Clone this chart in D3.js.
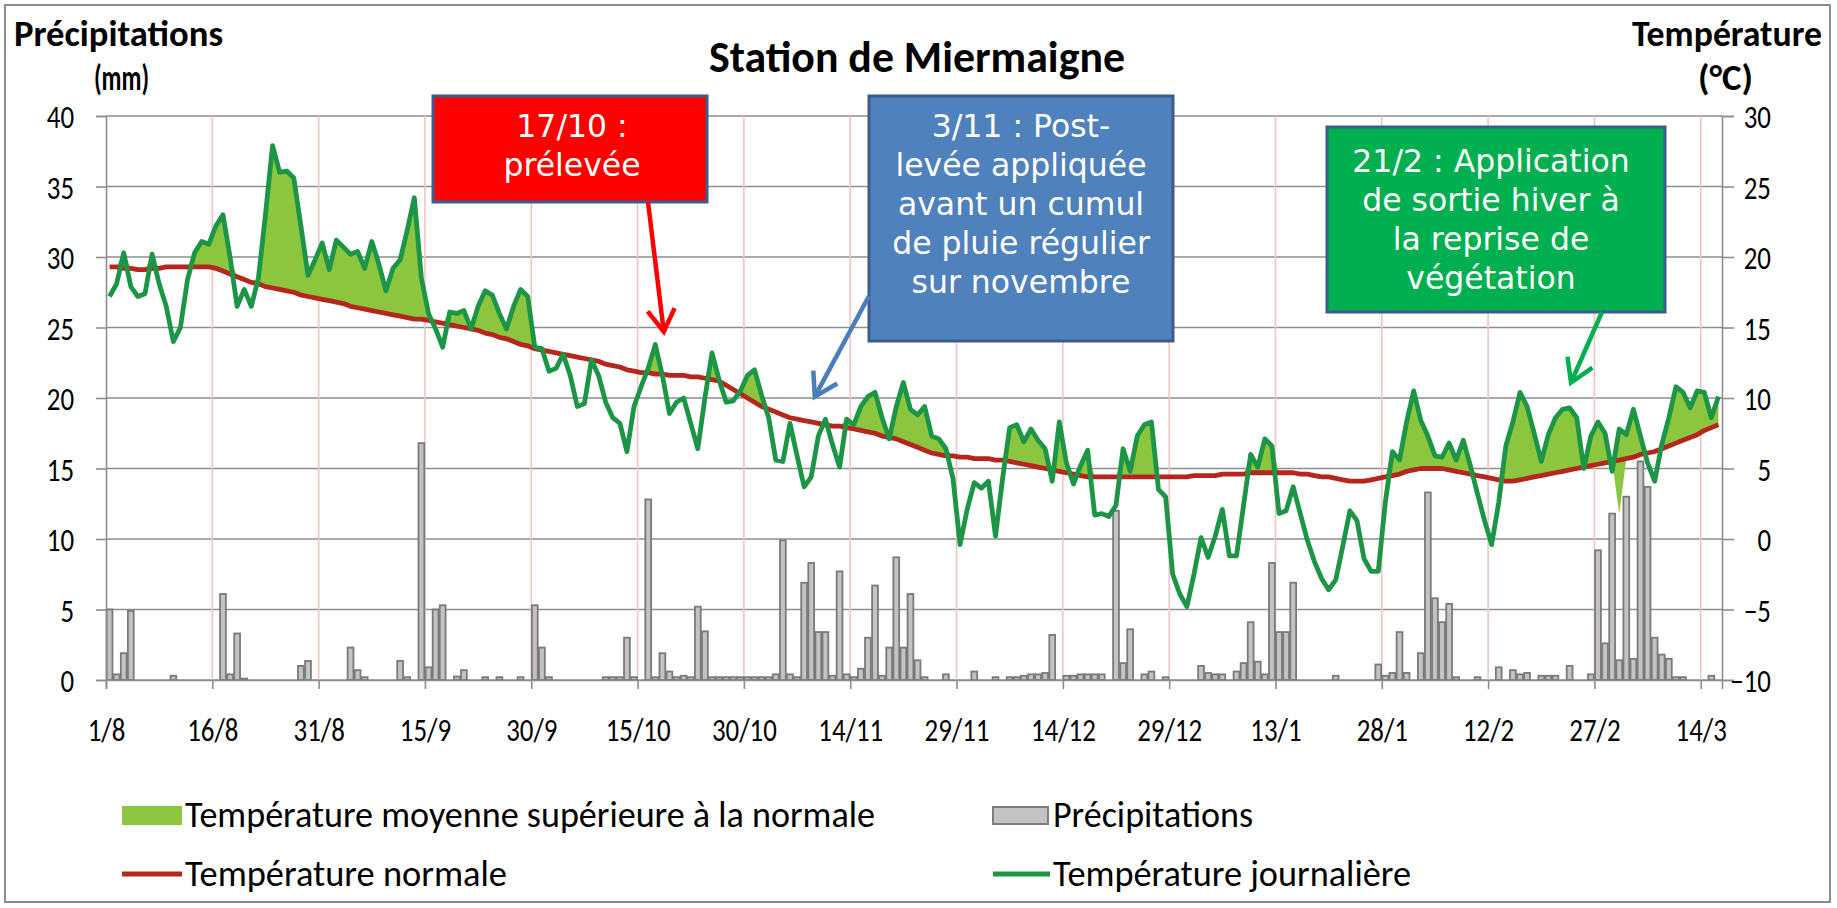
<!DOCTYPE html>
<html><head><meta charset="utf-8">
<script src="https://cdn.jsdelivr.net/npm/d3@7"></script>
<style>
html,body{margin:0;padding:0;background:#fff;}
svg{display:block;}
</style></head><body>
<svg id="chart" width="1837" height="908"></svg>
<script>
// ---------------- DATA ----------------
const tickLabels = ["1/8","16/8","31/8","15/9","30/9","15/10","30/10","14/11","29/11","14/12","29/12","13/1","28/1","12/2","27/2","14/3"];
const tickEvery = 15; // days between labels

// daily mean temperature (°C), 1/8 -> 16/3
const tempDaily = [
 17.2,18.1,20.3,17.9,17.2,17.4,20.2,18.1,16.5,14.0,
 15.0,18.4,20.3,21.1,20.9,22.2,23.0,20.0,16.5,17.7,
 16.5,18.5,23.0,27.9,26.0,26.1,25.6,22.2,18.7,19.8,
 21.0,19.1,21.2,20.7,20.2,20.4,19.2,21.1,19.5,17.6,
 19.2,19.8,21.9,24.2,18.5,16.0,14.9,13.6,16.1,16.0,
 16.2,14.9,16.5,17.6,17.3,16.0,14.9,16.5,17.7,17.2,
 13.6,13.5,11.9,12.1,13.1,11.6,9.4,9.6,12.7,11.6,
 9.7,8.6,8.2,6.2,9.4,10.8,12.1,13.8,11.6,8.9,
 9.7,10.0,8.2,6.4,10.0,13.2,11.3,9.7,9.8,10.5,
 11.6,12.0,10.2,8.6,5.6,5.5,8.2,5.9,3.7,4.4,
 7.3,8.5,6.7,5.1,8.5,8.1,9.4,10.1,10.4,8.6,
 7.1,9.4,11.1,9.2,8.8,9.4,7.3,7.1,6.4,4.3,
 -0.4,2.1,4.0,3.6,4.1,0.2,4.3,7.9,8.1,6.9,
 7.8,7.0,6.4,4.1,8.3,5.4,3.9,5.2,6.3,1.7,
 1.8,1.6,2.4,6.4,4.8,7.3,8.1,8.3,3.5,3.0,
 -2.5,-3.9,-4.8,-2.5,0.1,-1.3,0.2,2.1,-1.2,-1.2,
 2.4,6.0,5.1,7.1,6.6,1.8,2.0,3.7,1.8,-0.1,
 -1.6,-2.8,-3.6,-2.9,-0.5,2.0,1.3,-1.4,-2.3,-2.3,
 2.6,6.2,5.6,8.3,10.5,8.4,7.3,5.9,5.8,6.8,
 5.6,7.0,5.2,3.2,1.3,-0.4,2.6,6.6,8.3,10.4,
 9.4,7.5,5.5,7.4,8.6,9.2,9.3,8.6,5.0,7.3,
 8.3,7.5,4.8,7.8,7.4,9.2,7.3,5.4,4.1,6.7,
 8.6,10.8,10.4,9.3,10.5,10.4,8.6,10.1
];

// normal temperature (°C)
const tempNormal = [
 19.3,19.3,19.2,19.2,19.1,19.1,19.2,19.2,19.3,19.3,
 19.3,19.3,19.3,19.3,19.3,19.2,19.0,18.8,18.6,18.4,
 18.2,18.1,17.9,17.8,17.7,17.6,17.5,17.3,17.2,17.1,
 17.0,16.9,16.8,16.7,16.5,16.4,16.3,16.2,16.1,16.0,
 15.9,15.8,15.7,15.6,15.6,15.5,15.4,15.3,15.2,15.1,
 15.0,14.9,14.8,14.6,14.5,14.3,14.2,14.0,13.8,13.7,
 13.5,13.4,13.3,13.2,13.1,13.0,12.9,12.8,12.7,12.6,
 12.4,12.3,12.2,12.0,11.9,11.8,11.8,11.7,11.7,11.6,
 11.6,11.6,11.5,11.5,11.4,11.3,11.2,10.9,10.6,10.3,
 10.0,9.7,9.4,9.2,9.0,8.8,8.6,8.5,8.4,8.3,
 8.2,8.1,8.0,8.0,7.9,7.8,7.7,7.6,7.5,7.3,
 7.2,7.1,6.9,6.7,6.5,6.3,6.1,6.0,5.9,5.9,
 5.8,5.8,5.7,5.7,5.7,5.6,5.6,5.5,5.4,5.3,
 5.2,5.1,5.0,4.9,4.8,4.7,4.6,4.5,4.4,4.4,
 4.4,4.4,4.4,4.4,4.4,4.4,4.4,4.4,4.4,4.4,
 4.4,4.4,4.4,4.5,4.5,4.5,4.5,4.6,4.6,4.6,
 4.6,4.7,4.7,4.7,4.7,4.7,4.7,4.7,4.6,4.6,
 4.5,4.4,4.4,4.3,4.2,4.1,4.1,4.1,4.2,4.3,
 4.4,4.5,4.6,4.8,4.9,5.0,5.0,5.0,5.0,4.9,
 4.8,4.7,4.6,4.5,4.4,4.3,4.2,4.1,4.1,4.2,
 4.3,4.4,4.5,4.6,4.7,4.8,4.9,5.0,5.1,5.2,
 5.3,5.4,5.5,5.6,5.7,5.8,6.0,6.1,6.2,6.4,
 6.6,6.8,7.0,7.2,7.4,7.7,7.9,8.1
];

// daily precipitation (mm)
const precip = [
 5.0,0.4,1.9,4.9,0,0,0,0,0,0.3,
 0,0,0,0,0,0,6.1,0.4,3.3,0.1,
 0,0,0,0,0,0,0,1.0,1.35,0,
 0,0,0,0,2.3,0.7,0.2,0,0,0,
 0,1.35,0.2,0,16.8,0.9,5.0,5.3,0,0.25,
 0.7,0,0,0.2,0,0.2,0,0,0.2,0,
 5.3,2.3,0.2,0,0,0,0,0,0,0,
 0.2,0.2,0.2,3.0,0.2,0,12.8,0.2,1.9,0.6,
 0.2,0.3,0.2,5.2,3.45,0.2,0.2,0.2,0.2,0.2,
 0.2,0.2,0.2,0.2,0.4,9.9,0.4,0.2,6.9,8.3,
 3.4,3.4,0.3,7.7,0.4,0.2,0.8,3.0,6.7,0.3,
 2.3,8.7,2.3,6.1,1.4,0.2,0,0,0.4,0,
 0,0,0.6,0,0,0.2,0,0.2,0.2,0.3,
 0.4,0.4,0.5,3.2,0,0.3,0.3,0.4,0.4,0.4,
 0.4,0,12.0,1.2,3.6,0,0.4,0.6,0,0.2,
 0,0,0,0,1.0,0.5,0.4,0.4,0,0.6,
 1.2,4.1,1.3,0.4,8.3,3.4,3.4,6.9,0,0,
 0,0,0,0.3,0,0,0,0,0,1.1,
 0.3,0.5,3.4,0.5,0,1.9,13.3,5.8,4.1,5.4,
 0.2,0,0,0.2,0,0,0.9,0,0.7,0.4,
 0.5,0,0.3,0.3,0.3,0,1.0,0,0,0.4,
 9.2,2.6,11.8,1.4,13.0,1.5,15.5,13.7,3.0,1.8,
 1.5,0.2,0.2,0,0,0,0.3,0
];

// day where the shaded "above normal" area dips (artefact of the original)
const fillBaseDips = [{day: 213, value: 1.8}];

const precipTicks = [0,5,10,15,20,25,30,35,40];
const tempTicks = [-10,-5,0,5,10,15,20,25,30];

const seriesNames = {
  above: "Température moyenne supérieure à la normale",
  precip: "Précipitations",
  normal: "Température normale",
  daily: "Température journalière"
};

const annotations = [
  {lines:["17/10 :","prélevée"], fill:"#ff0000", arrow:"#ff0000", tipDay:78.2, tipTemp:14.7},
  {lines:["3/11 : Post-","levée appliquée","avant un cumul","de pluie régulier","sur novembre"], fill:"#4f81bd", arrow:"#4a7ebb", tipDay:99.5, tipTemp:10.1},
  {lines:["21/2 : Application","de sortie hiver à","la reprise de","végétation"], fill:"#00b050", arrow:"#00b050", tipDay:206.2, tipTemp:11.1}
];

// ---------------- LAYOUT ----------------
const L = {left:106, right:1722, top:116, bottom:680};
const annLayout = [
  {box:[433,96,274,106], cx:572, base:137, start:[648,202]},
  {box:[869,96,304,245], cx:1021, base:137, start:[869,296]},
  {box:[1327,127,338,185], cx:1491, base:172, start:[1602,312]}
];
const calib = "Carlito, Calibri, Lato, sans-serif";
const verd = "Verdana, 'DejaVu Sans', sans-serif";

const svg = d3.select("#chart");
svg.append("rect").attr("x",0).attr("y",0).attr("width",1837).attr("height",908).attr("fill","#fff");
svg.append("rect").attr("x",5).attr("y",5).attr("width",1825).attr("height",897)
  .attr("fill","none").attr("stroke","#8c8c8c").attr("stroke-width",2);

const n = tempDaily.length;
const x = d3.scaleLinear().domain([0, n]).range([L.left, L.right]);
const xc = i => x(i + 0.5);
const yP = d3.scaleLinear().domain([0,40]).range([L.bottom, L.top]);
const yT = d3.scaleLinear().domain([-10,30]).range([L.bottom, L.top]);

function fit(sel, w){ sel.attr("textLength", w).attr("lengthAdjust","spacingAndGlyphs"); return sel; }
function squeeze(sel, k){ sel.each(function(){ const w=this.getComputedTextLength(); d3.select(this).attr("textLength", w*k).attr("lengthAdjust","spacingAndGlyphs"); }); }

// gridlines
const grid = svg.append("g");
grid.selectAll("line.h").data(precipTicks).join("line")
  .attr("x1",L.left).attr("x2",L.right).attr("y1",d=>yP(d)).attr("y2",d=>yP(d))
  .attr("stroke","#8e8e8e").attr("stroke-width",1.6);
grid.selectAll("line.v").data(d3.range(1, tickLabels.length)).join("line")
  .attr("x1",d=>x(d*tickEvery)).attr("x2",d=>x(d*tickEvery))
  .attr("y1",L.top).attr("y2",L.bottom)
  .attr("stroke","#f1c4c4").attr("stroke-width",1.6);

// precipitation bars
const bw = (x(1)-x(0))*0.82;
svg.append("g").selectAll("rect").data(precip.map((v,i)=>({v,i})).filter(d=>d.v>0)).join("rect")
  .attr("x",d=>xc(d.i)-bw/2).attr("width",bw)
  .attr("y",d=>yP(d.v)).attr("height",d=>yP(0)-yP(d.v))
  .attr("fill","#c3c3c3").attr("stroke","#7a7a7a").attr("stroke-width",1.8);

// above-normal area
const dipMap = new Map(fillBaseDips.map(d=>[d.day,d.value]));
const area = d3.area()
  .x((d,i)=>xc(i))
  .y0((d,i)=>yT(dipMap.has(i)? dipMap.get(i) : tempNormal[i]))
  .y1((d,i)=>yT(Math.max(d, tempNormal[i])));
svg.append("path").datum(tempDaily).attr("d",area).attr("fill","#8cc63f");

// normal line
const line = d3.line().x((d,i)=>xc(i)).y(d=>yT(d));
svg.append("path").datum(tempNormal).attr("d",line).attr("fill","none")
  .attr("stroke","#b5261c").attr("stroke-width",4.8).attr("stroke-linejoin","round");
// daily line
svg.append("path").datum(tempDaily).attr("d",line).attr("fill","none")
  .attr("stroke","#1c9646").attr("stroke-width",4.8).attr("stroke-linejoin","round");

// axes
const axColor = "#8e8e8e";
const gL = svg.append("g").attr("transform",`translate(${L.left},0)`)
  .call(d3.axisLeft(yP).tickValues(precipTicks).tickSize(10).tickPadding(22));
const gR = svg.append("g").attr("transform",`translate(${L.right},0)`)
  .call(d3.axisRight(yT).tickValues(tempTicks).tickSize(12).tickPadding(0));
const gB = svg.append("g").attr("transform",`translate(0,${L.bottom})`)
  .call(d3.axisBottom(x).tickValues(tickLabels.map((t,j)=>j*tickEvery)).tickFormat((d,j)=>tickLabels[j]).tickSize(9));
[gL,gR,gB].forEach(g=>{
  g.select(".domain").attr("stroke",axColor).attr("stroke-width",1.6);
  g.selectAll(".tick line").attr("stroke",axColor).attr("stroke-width",1.6);
  g.selectAll("text").attr("font-family",calib).attr("font-size",32).attr("fill","#000");
});
gL.selectAll("text").attr("dy","0.36em");
gR.selectAll("text").attr("text-anchor","end").attr("x",49).attr("dy","0.36em");
gB.selectAll("text").attr("y",61).attr("dy","0");
[gL,gR,gB].forEach(g=>g.selectAll("text").call(squeeze,0.84));

// axis titles & title
svg.append("text").text("Station de Miermaigne").attr("x",709).attr("y",72)
  .attr("font-family",calib).attr("font-weight","bold").attr("font-size",45).call(fit,416);
svg.append("text").text("Précipitations").attr("x",14).attr("y",46)
  .attr("font-family",calib).attr("font-weight","bold").attr("font-size",37).call(fit,209);
svg.append("text").text("(mm)").attr("x",94).attr("y",90)
  .attr("font-family",calib).attr("font-weight","bold").attr("font-size",37).call(fit,55);
svg.append("text").text("Température").attr("x",1632).attr("y",46)
  .attr("font-family",calib).attr("font-weight","bold").attr("font-size",37).call(fit,190);
svg.append("text").text("(°C)").attr("x",1698).attr("y",90)
  .attr("font-family",calib).attr("font-weight","bold").attr("font-size",37).call(fit,55);

// legend
const lg = svg.append("g").attr("font-family",calib).attr("font-size",37);
lg.append("rect").attr("x",122).attr("y",806).attr("width",60).attr("height",19).attr("fill","#8cc63f");
lg.append("text").text(seriesNames.above).attr("x",185).attr("y",827).call(fit,690);
lg.append("rect").attr("x",993).attr("y",807).attr("width",55).attr("height",17).attr("fill","#c3c3c3").attr("stroke","#7d7d7d").attr("stroke-width",2);
lg.append("text").text(seriesNames.precip).attr("x",1053).attr("y",827).call(fit,200);
lg.append("line").attr("x1",122).attr("x2",182).attr("y1",874).attr("y2",874).attr("stroke","#b5261c").attr("stroke-width",5);
lg.append("text").text(seriesNames.normal).attr("x",185).attr("y",886).call(fit,322);
lg.append("line").attr("x1",993).attr("x2",1050).attr("y1",874).attr("y2",874).attr("stroke","#1c9646").attr("stroke-width",5);
lg.append("text").text(seriesNames.daily).attr("x",1053).attr("y",886).call(fit,358);

// annotations
annotations.forEach((a,k)=>{
  const lay = annLayout[k];
  const g = svg.append("g");
  g.append("rect").attr("x",lay.box[0]).attr("y",lay.box[1]).attr("width",lay.box[2]).attr("height",lay.box[3])
    .attr("fill",a.fill).attr("stroke","#3a5d8c").attr("stroke-width",3);
  a.lines.forEach((t,j)=>{
    g.append("text").text(t).attr("x",lay.cx).attr("y",lay.base + j*39)
      .attr("text-anchor","middle").attr("font-family",verd).attr("font-size",31.5).attr("fill","#fff");
  });
  const tx = xc(a.tipDay), ty = yT(a.tipTemp);
  const [sx,sy] = lay.start;
  g.append("line").attr("x1",sx).attr("y1",sy).attr("x2",tx).attr("y2",ty)
    .attr("stroke",a.arrow).attr("stroke-width",4.5);
  const ang = Math.atan2(ty-sy, tx-sx), len = 26, spread = 0.55;
  const p1 = [tx - len*Math.cos(ang-spread), ty - len*Math.sin(ang-spread)];
  const p2 = [tx - len*Math.cos(ang+spread), ty - len*Math.sin(ang+spread)];
  g.append("path").attr("d",`M${p1[0]},${p1[1]}L${tx},${ty}L${p2[0]},${p2[1]}`)
    .attr("fill","none").attr("stroke",a.arrow).attr("stroke-width",4.5).attr("stroke-linejoin","miter");
});
</script>
</body></html>
